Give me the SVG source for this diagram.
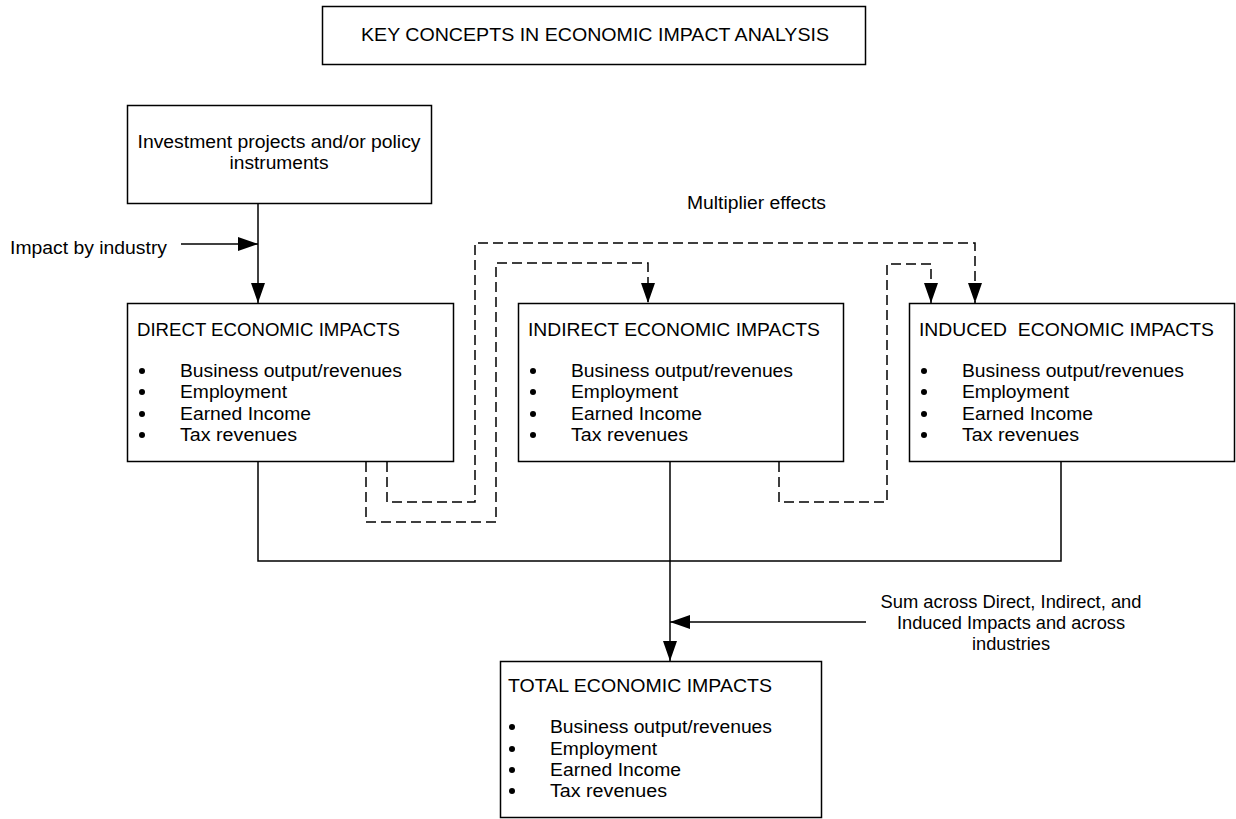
<svg xmlns="http://www.w3.org/2000/svg" width="1236" height="819" viewBox="0 0 1236 819">
<style>
text{font-family:"Liberation Sans",Arial,sans-serif;font-size:17.5px;fill:#000}
.box{fill:#fff;stroke:#000;stroke-width:1.5}
.ln{fill:none;stroke:#000;stroke-width:1.5}
.dash{fill:none;stroke:#000;stroke-width:1.5;stroke-dasharray:10 5}
.mid{text-anchor:middle}
</style>
<defs>
<marker id="ah" markerUnits="userSpaceOnUse" markerWidth="20" markerHeight="14" viewBox="0 0 20 14" refX="20" refY="7" orient="auto">
<path d="M0,0 L20,7 L0,14 z" fill="#000" stroke="none"/>
</marker>
<g id="bl">
<circle cx="0" cy="0" r="3" fill="#000"/>
</g>
</defs>
<rect width="1236" height="819" fill="#fff"/>

<g id="connectors">
<path class="ln" d="M258 204 V303" marker-end="url(#ah)"/>
<path class="ln" d="M181 244 H258" marker-end="url(#ah)"/>
<path class="ln" d="M258 462 V561 H1061 V462"/>
<path class="ln" d="M670 462 V661" marker-end="url(#ah)"/>
<path class="ln" d="M866 622 H670" marker-end="url(#ah)"/>
<path class="dash" d="M387 462 V502 H475 V243 H975 V303" marker-end="url(#ah)"/>
<path class="dash" d="M366 462 V522 H496 V263 H648 V303" marker-end="url(#ah)"/>
<path class="dash" d="M779 462 V502 H887 V264 H931 V303" marker-end="url(#ah)"/>
</g>

<g id="title">
<rect class="box" x="322.5" y="6.5" width="543" height="58"/>
<text x="595" y="41" class="mid" textLength="468" lengthAdjust="spacingAndGlyphs">KEY CONCEPTS IN ECONOMIC IMPACT ANALYSIS</text>
</g>

<g id="investment">
<rect class="box" x="127.5" y="105.5" width="304" height="98"/>
<text x="279" y="148" class="mid" textLength="283" lengthAdjust="spacingAndGlyphs">Investment projects and/or policy</text>
<text x="279" y="169" class="mid" textLength="99" lengthAdjust="spacingAndGlyphs">instruments</text>
</g>

<g id="label-impact">
<text x="10" y="254" textLength="157" lengthAdjust="spacingAndGlyphs">Impact by industry</text>
</g>
<g id="label-multiplier">
<text x="687" y="209" textLength="139" lengthAdjust="spacingAndGlyphs">Multiplier effects</text>
</g>
<g id="label-sum">
<text x="1011" y="608" class="mid" textLength="261" lengthAdjust="spacingAndGlyphs">Sum across Direct, Indirect, and</text>
<text x="1011" y="629" class="mid" textLength="228" lengthAdjust="spacingAndGlyphs">Induced Impacts and across</text>
<text x="1011" y="650" class="mid" textLength="78" lengthAdjust="spacingAndGlyphs">industries</text>
</g>

<g id="direct">
<rect class="box" x="127.5" y="303.5" width="326" height="158"/>
<text x="137" y="336" textLength="263" lengthAdjust="spacingAndGlyphs">DIRECT ECONOMIC IMPACTS</text>
<use href="#bl" x="142" y="371"/><text x="180" y="377" textLength="222" lengthAdjust="spacingAndGlyphs">Business output/revenues</text>
<use href="#bl" x="142" y="392"/><text x="180" y="398" textLength="107" lengthAdjust="spacingAndGlyphs">Employment</text>
<use href="#bl" x="142" y="414"/><text x="180" y="420" textLength="131" lengthAdjust="spacingAndGlyphs">Earned Income</text>
<use href="#bl" x="142" y="435"/><text x="180" y="441" textLength="117" lengthAdjust="spacingAndGlyphs">Tax revenues</text>
</g>

<g id="indirect">
<rect class="box" x="518.5" y="303.5" width="325" height="158"/>
<text x="528" y="336" textLength="292" lengthAdjust="spacingAndGlyphs">INDIRECT ECONOMIC IMPACTS</text>
<use href="#bl" x="533" y="371"/><text x="571" y="377" textLength="222" lengthAdjust="spacingAndGlyphs">Business output/revenues</text>
<use href="#bl" x="533" y="392"/><text x="571" y="398" textLength="107" lengthAdjust="spacingAndGlyphs">Employment</text>
<use href="#bl" x="533" y="414"/><text x="571" y="420" textLength="131" lengthAdjust="spacingAndGlyphs">Earned Income</text>
<use href="#bl" x="533" y="435"/><text x="571" y="441" textLength="117" lengthAdjust="spacingAndGlyphs">Tax revenues</text>
</g>

<g id="induced">
<rect class="box" x="909.5" y="303.5" width="325" height="158"/>
<text x="919" y="336" textLength="295" lengthAdjust="spacingAndGlyphs" xml:space="preserve">INDUCED  ECONOMIC IMPACTS</text>
<use href="#bl" x="924" y="371"/><text x="962" y="377" textLength="222" lengthAdjust="spacingAndGlyphs">Business output/revenues</text>
<use href="#bl" x="924" y="392"/><text x="962" y="398" textLength="107" lengthAdjust="spacingAndGlyphs">Employment</text>
<use href="#bl" x="924" y="414"/><text x="962" y="420" textLength="131" lengthAdjust="spacingAndGlyphs">Earned Income</text>
<use href="#bl" x="924" y="435"/><text x="962" y="441" textLength="117" lengthAdjust="spacingAndGlyphs">Tax revenues</text>
</g>

<g id="total">
<rect class="box" x="500.5" y="661.5" width="321" height="156"/>
<text x="508" y="692" textLength="264" lengthAdjust="spacingAndGlyphs">TOTAL ECONOMIC IMPACTS</text>
<use href="#bl" x="512" y="727"/><text x="550" y="733" textLength="222" lengthAdjust="spacingAndGlyphs">Business output/revenues</text>
<use href="#bl" x="512" y="749"/><text x="550" y="755" textLength="107" lengthAdjust="spacingAndGlyphs">Employment</text>
<use href="#bl" x="512" y="770"/><text x="550" y="776" textLength="131" lengthAdjust="spacingAndGlyphs">Earned Income</text>
<use href="#bl" x="512" y="791"/><text x="550" y="797" textLength="117" lengthAdjust="spacingAndGlyphs">Tax revenues</text>
</g>
</svg>
